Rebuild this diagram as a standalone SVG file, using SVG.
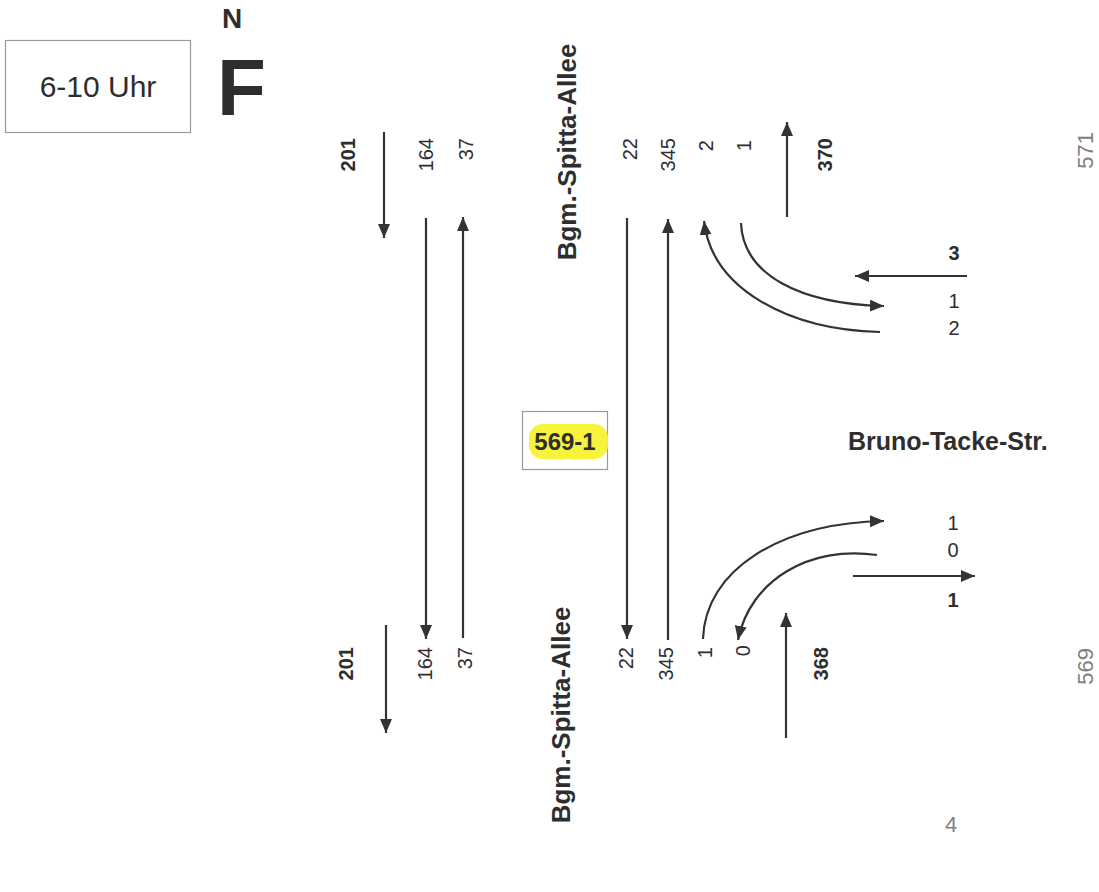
<svg xmlns="http://www.w3.org/2000/svg" width="1099" height="892" viewBox="0 0 1099 892">
<style>
text{font-family:"Liberation Sans",Arial,sans-serif;fill:#2e2e2e}
.b{font-weight:bold}
.n{font-size:20px}
.r{text-anchor:end}
.g{fill:#808080;font-size:22px}
.street{font-size:26px;font-weight:bold;text-anchor:middle}
.ln{fill:none;stroke:#333;stroke-width:2.2}
.ah{marker-end:url(#ah)}
</style>
<defs>
<marker id="ah" viewBox="0 0 14 12" refX="14" refY="6" markerWidth="14" markerHeight="12" markerUnits="userSpaceOnUse" orient="auto">
<path d="M0,0 L14,6 L0,12 z" fill="#333"/>
</marker>
</defs>
<rect width="1099" height="892" fill="#fff"/>

<g id="time-box">
<rect x="5.5" y="40.5" width="185" height="92" fill="none" stroke="#999" stroke-width="1.2"/>
<text x="98" y="97" font-size="30" text-anchor="middle">6-10 Uhr</text>
</g>
<g id="north">
<text class="b" x="232" y="28" font-size="28" text-anchor="middle">N</text>
<text class="b" x="217" y="115" font-size="80">F</text>
</g>
<g id="node-id">
<rect x="522.5" y="411.5" width="85" height="58" fill="none" stroke="#999" stroke-width="1.2"/>
<rect x="529" y="424" width="79" height="35" rx="14" fill="#f7f23c"/>
<text class="b" x="565" y="450" font-size="24" text-anchor="middle">569-1</text>
</g>
<g id="street-north">
<text class="street" transform="translate(576,152) rotate(-90)">Bgm.-Spitta-Allee</text>
</g>
<g id="street-south">
<text class="street" transform="translate(570,715) rotate(-90)">Bgm.-Spitta-Allee</text>
</g>
<g id="street-east">
<text class="b" x="848" y="450" font-size="25">Bruno-Tacke-Str.</text>
</g>

<g id="counts-north">
<text class="n b r" transform="translate(355,138) rotate(-90)">201</text>
<text class="n r" transform="translate(433,138) rotate(-90)">164</text>
<text class="n r" transform="translate(473,138) rotate(-90)">37</text>
<text class="n r" transform="translate(637,138) rotate(-90)">22</text>
<text class="n r" transform="translate(675,138) rotate(-90)">345</text>
<text class="n r" transform="translate(713,140) rotate(-90)">2</text>
<text class="n r" transform="translate(751,140) rotate(-90)">1</text>
<text class="n b r" transform="translate(832,138) rotate(-90)">370</text>
<text class="g r" transform="translate(1093,132) rotate(-90)">571</text>
</g>
<g id="counts-south">
<text class="n b r" transform="translate(353,647) rotate(-90)">201</text>
<text class="n r" transform="translate(432,647) rotate(-90)">164</text>
<text class="n r" transform="translate(472,647) rotate(-90)">37</text>
<text class="n r" transform="translate(633,647) rotate(-90)">22</text>
<text class="n r" transform="translate(673,647) rotate(-90)">345</text>
<text class="n r" transform="translate(712,647) rotate(-90)">1</text>
<text class="n r" transform="translate(750,645) rotate(-90)">0</text>
<text class="n b r" transform="translate(828,647) rotate(-90)">368</text>
<text class="g r" transform="translate(1093,648) rotate(-90)">569</text>
</g>
<g id="counts-east">
<text class="n b" x="954" y="260" text-anchor="middle">3</text>
<text class="n" x="954" y="308" text-anchor="middle">1</text>
<text class="n" x="954" y="335" text-anchor="middle">2</text>
<text class="n" x="953" y="530" text-anchor="middle">1</text>
<text class="n" x="953" y="557" text-anchor="middle">0</text>
<text class="n b" x="953" y="607" text-anchor="middle">1</text>
</g>
<g id="counts-total">
<text class="g" x="951" y="832" font-size="21" text-anchor="middle">4</text>
</g>

<g id="connectors">
<line class="ln ah" x1="384" y1="132" x2="384" y2="238"/>
<line class="ln ah" x1="426" y1="218" x2="426" y2="639"/>
<line class="ln ah" x1="463" y1="638" x2="463" y2="217"/>
<line class="ln ah" x1="627" y1="218" x2="627" y2="639"/>
<line class="ln ah" x1="668" y1="640" x2="668" y2="219"/>
<line class="ln ah" x1="787" y1="217" x2="787" y2="122"/>
<line class="ln ah" x1="386" y1="625" x2="386" y2="733"/>
<line class="ln ah" x1="786" y1="738" x2="786" y2="613"/>
<line class="ln ah" x1="967" y1="276" x2="855" y2="276"/>
<line class="ln ah" x1="853" y1="576" x2="975" y2="576"/>
<path class="ln ah" d="M741,223 C743,275 800,304 884,306"/>
<path class="ln ah" d="M880,332 C790,330 712,290 704,221"/>
<path class="ln ah" d="M703,639 C705,570 780,523 884,521"/>
<path class="ln ah" d="M877,555 C810,545 750,580 738,640"/>
</g>
</svg>
